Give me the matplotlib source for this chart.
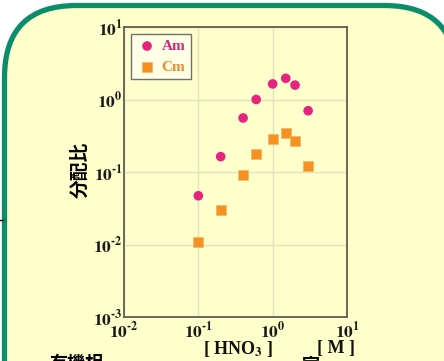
import math
import matplotlib
matplotlib.use("Agg")
import matplotlib.pyplot as plt
from matplotlib.patches import FancyBboxPatch
from matplotlib.ticker import FixedLocator, FuncFormatter, NullLocator

# ---- data ----
hno3 = [0.1, 0.2, 0.4, 0.6, 1.0, 1.5, 2.0, 3.0]
am_d = [0.047, 0.163, 0.556, 1.0, 1.64, 1.96, 1.58, 0.70]
cm_d = [0.0107, 0.0296, 0.091, 0.177, 0.282, 0.345, 0.27, 0.121]
series_names = ["Am", "Cm"]
x_ticks = [1e-2, 1e-1, 1e0, 1e1]
y_ticks = [1e-3, 1e-2, 1e-1, 1e0, 1e1]

plt.rcParams['mathtext.fontset'] = 'stix'

W, H = 444, 361
fig = plt.figure(figsize=(W / 100, H / 100), dpi=100)
fig.patch.set_facecolor('white')

# background overlay in pixel coordinates
bg = fig.add_axes([0, 0, 1, 1], zorder=0)
bg.set_xlim(0, W)
bg.set_ylim(H, 0)
bg.axis('off')
box = FancyBboxPatch((4.5, 5.5), 452, 430,
                     boxstyle="round,pad=0,rounding_size=72",
                     facecolor='#FFFFCC', edgecolor='#0B8C6B', linewidth=3.8)
bg.add_patch(box)
bg.plot([0, 3], [220, 220], color='black', lw=1)

ycol = '#FFFFCC'
ax = fig.add_axes([124 / W, 1 - 317 / H, (347 - 124) / W, (317 - 27) / H], zorder=2)
ax.set_facecolor(ycol)
ax.set_xscale('log')
ax.set_yscale('log')
ax.set_xlim(1e-2, 1e1)
ax.set_ylim(1e-3, 1e1)

ax.scatter(hno3, am_d, s=48, marker='o', color='#E6237E', edgecolors='none',
           label=series_names[0], zorder=3)
ax.scatter(hno3, cm_d, s=44, marker='s', color='#F59120', edgecolors='#FBB463',
           linewidths=0.6, label=series_names[1], zorder=3)

def fmt(v, pos):
    e = int(round(math.log10(v)))
    s = str(abs(e))
    if e < 0:
        s = '\u2010' + s
    return r'$\mathbf{10^{%s}}$' % s

ax.xaxis.set_major_locator(FixedLocator(x_ticks))
ax.yaxis.set_major_locator(FixedLocator(y_ticks))
ax.xaxis.set_minor_locator(NullLocator())
ax.yaxis.set_minor_locator(NullLocator())
ax.xaxis.set_major_formatter(FuncFormatter(fmt))
ax.yaxis.set_major_formatter(FuncFormatter(fmt))
ax.tick_params(axis='both', length=0, labelsize=12.5, colors='#1a1a1a')
ax.tick_params(axis='x', pad=3)
ax.tick_params(axis='y', pad=1)
ax.grid(True, which='major', color='#E2E2BC', lw=1)
ax.set_axisbelow(True)
for sp in ax.spines.values():
    sp.set_color('#5E5E50')
    sp.set_linewidth(1.3)

leg = ax.legend(loc='upper left', bbox_to_anchor=(7 / 223, 1 - 7 / 290), fancybox=False,
                framealpha=1, facecolor='#FFFFE6', edgecolor='#707070',
                prop={'family': 'Liberation Serif', 'weight': 'bold', 'size': 11},
                handletextpad=0.25, borderpad=0.35, labelspacing=0.45,
                handlelength=1.4, borderaxespad=0, markerscale=1.0)
leg.get_frame().set_linewidth(1.0)
for t, c in zip(leg.get_texts(), ['#D6287A', '#EE8A2A']):
    t.set_color(c)

# y label
fig.text(80 / W, 1 - 170 / H, "分配比", rotation=90, ha='center', va='center',
         family=['Noto Sans CJK JP', 'DejaVu Sans'], weight='bold', fontsize=13.5,
         color='black')

# x label pieces
fig.text(238 / W, 1 - 349 / H, r"[ HNO$_{\mathbf{3}}$ ]", ha='center', va='center',
         family='Liberation Serif', weight='bold', fontsize=13, color='#111111')
fig.text(336 / W, 1 - 349 / H, "[ M ]", ha='center', va='center',
         family='Liberation Serif', weight='bold', fontsize=13, color='#111111')

# cut-off text at bottom
fig.text(50 / W, 1 - 354 / H, "有機相", ha='left', va='top',
         family=['Noto Sans CJK JP', 'DejaVu Sans'], weight='bold', fontsize=13,
         color='black')
fig.text(302 / W, 1 - 356 / H, "室", ha='left', va='top',
         family=['Noto Sans CJK JP', 'DejaVu Sans'], weight='bold', fontsize=13,
         color='black')

fig.savefig('out.png', dpi=100, facecolor='white')
